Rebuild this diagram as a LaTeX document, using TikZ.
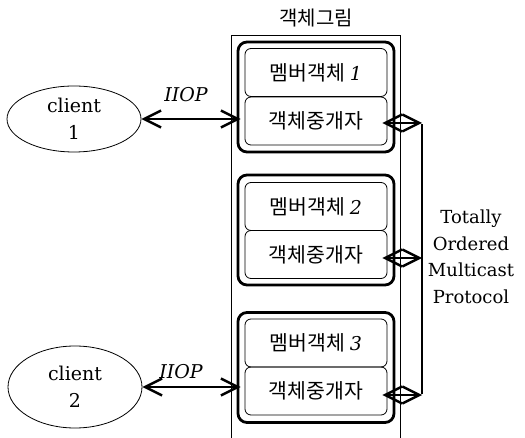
\documentclass[tikz,border=0pt]{standalone}
\usepackage{fontspec}
\newfontfamily\kr{Noto Sans CJK KR}
\newfontfamily\serif{DejaVu Serif}
\usetikzlibrary{arrows.meta,shapes.geometric}
\tikzset{
  latin/.style={font=\serif\fontsize{18}{26.5}\selectfont},
  grouptitle/.style={font=\kr\fontsize{20}{22}\selectfont},
  groupbox/.style={draw, line width=2.8pt, rounded corners=9pt,
    minimum width=156pt, minimum height=110pt},
  part/.style={draw, line width=0.8pt, rounded corners=6pt,
    minimum width=142pt, minimum height=48pt, inner sep=0pt,
    font=\kr\fontsize{20.5}{22}\selectfont},
  client/.style={draw, ellipse, line width=0.8pt, align=center,
    font=\serif\fontsize{19}{26.5}\selectfont, inner sep=0pt},
  barb/.tip={Straight Barb[length=17pt,width=17pt,line width=2.4pt]},
  link/.style={line width=2.4pt, barb-barb},
  bus/.style={line width=2.8pt},
  proto/.style={font=\serif\itshape\fontsize{19}{22}\selectfont},
}
\begin{document}
\begin{tikzpicture}[x=1pt,y=-1pt]
\useasboundingbox (0,0) rectangle (525,438);

% object group frame, open at the bottom
\node[grouptitle] (title) at (316,18) {객체그림};
\coordinate (fl) at (231,438);
\coordinate (fr) at (400,438);
\draw[line width=0.8pt] (fl) -- (231,35) -- (400,35) -- (fr);

% three replicas, each a member object over its broker
\node[groupbox] (g1) at (316,97) {};
\node[part] (m1) at (316,72.5) {멤버객체 {\serif\itshape\fontsize{19}{22}\selectfont 1}};
\node[part] (b1) at (316,121) {객체중개자};

\node[groupbox] (g2) at (316,230) {};
\node[part] (m2) at (316,206.5) {멤버객체 {\serif\itshape\fontsize{19}{22}\selectfont 2}};
\node[part] (b2) at (316,254.5) {객체중개자};

\node[groupbox] (g3) at (316,367.5) {};
\node[part] (m3) at (316,343) {멤버객체 {\serif\itshape\fontsize{19}{22}\selectfont 3}};
\node[part] (b3) at (316,391) {객체중개자};

% clients
\node[client, minimum width=134pt, minimum height=66pt] (c1) at (74,119) {client\\1};
\node[client, minimum width=134pt, minimum height=82pt] (c2) at (75,387) {client\\2};

% IIOP links
\coordinate (e1) at ([xshift=4pt]c1.east -| g1.west);
\coordinate (e2) at ([xshift=4pt]c2.east -| g3.west);
\draw[link] (c1.east) -- (e1);
\draw[link] (c2.east) -- (e2);
\node[proto] (l1) at (186,95) {IIOP};
\node[proto] (l2) at (181,372) {IIOP};

% multicast bus
\coordinate (t1) at (422,123);
\coordinate (t2) at (422,258);
\coordinate (t3) at (422,395);
\draw[bus] ([yshift=-1.4pt]t1) -- ([yshift=1.4pt]t3);
\draw[link] ([xshift=-5pt]b1.east |- t1) -- (t1);
\draw[link] ([xshift=-5pt]b2.east |- t2) -- (t2);
\draw[link] ([xshift=-5pt]b3.east |- t3) -- (t3);

\node[latin, align=center] (mc) at (471,257) {Totally\\Ordered\\Multicast\\Protocol};
\end{tikzpicture}
\end{document}
